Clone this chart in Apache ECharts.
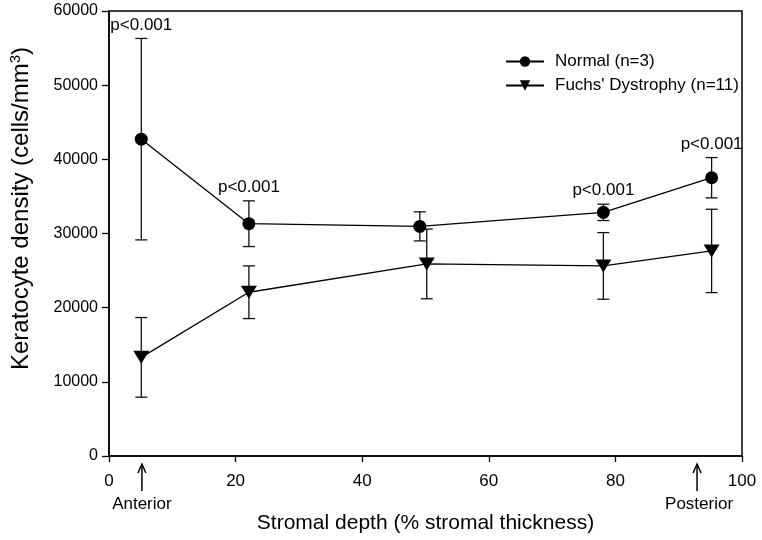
<!DOCTYPE html>
<html>
<head>
<meta charset="utf-8">
<script src="https://cdn.jsdelivr.net/npm/echarts@6/dist/echarts.min.js"></script>
<style>html,body{margin:0;padding:0;background:#fff}#c{width:762px;height:540px}</style>
</head>
<body>
<div id="c"></div>
<script>
// Data
const normalDepth = [5.1, 22.1, 49.1, 78.1, 95.2];
const normalMean  = [42720, 31320, 30960, 32850, 37520];
const normalSD    = [13580, 3080, 1960, 1100, 2720];

const fuchsDepth = [5.1, 22.1, 50.2, 78.1, 95.2];
const fuchsMean  = [13300, 22080, 25900, 25630, 27650];
const fuchsSD    = [5370, 3550, 4700, 4490, 5620];

const pIndex = [0, 1, 3, 4];           // normal points annotated with p value
const pText = 'p<0.001';

const annotDepth = [5.2, 92.9];
const annotText = ['Anterior', 'Posterior'];

const normalName = 'Normal (n=3)';
const fuchsName = "Fuchs' Dystrophy (n=11)";

const FONT = '"Liberation Sans", Arial, sans-serif';

const chart = echarts.init(document.getElementById('c'));

function pairs(xs, ys) { return xs.map((x, i) => [x, ys[i]]); }
function errData(xs, m, sd) { return xs.map((x, i) => [x, m[i] - sd[i], m[i] + sd[i]]); }

function errRender(params, api) {
  const x = api.value(0);
  const lo = api.coord([x, api.value(1)]);
  const hi = api.coord([x, api.value(2)]);
  const w = 6;
  const st = { stroke: '#111', lineWidth: 1.3 };
  return {
    type: 'group',
    children: [
      { type: 'line', shape: { x1: lo[0], y1: lo[1], x2: hi[0], y2: hi[1] }, style: st },
      { type: 'line', shape: { x1: lo[0] - w, y1: lo[1], x2: lo[0] + w, y2: lo[1] }, style: st },
      { type: 'line', shape: { x1: hi[0] - w, y1: hi[1], x2: hi[0] + w, y2: hi[1] }, style: st }
    ]
  };
}

const option = {
  animation: false,
  backgroundColor: '#fff',
  textStyle: { fontFamily: FONT, color: '#000' },
  grid: { left: 109, right: 20, top: 11, bottom: 84, show: true, borderColor: '#000', borderWidth: 1.5, backgroundColor: 'transparent', containLabel: false, outerBoundsMode: 'none' },
  legend: {
    orient: 'vertical',
    left: 505, top: 53, padding: 0,
    itemWidth: 38, itemHeight: 13, itemGap: 7,
    data: [normalName, fuchsName],
    textStyle: { fontFamily: FONT, fontSize: 17, color: '#000', padding: [0, 0, 0, 6] }
  },
  xAxis: {
    type: 'value', min: 0, max: 100, interval: 20,
    name: 'Stromal depth (% stromal thickness)',
    nameLocation: 'middle', nameGap: 57,
    nameTextStyle: { fontFamily: FONT, fontSize: 21, color: '#000' },
    axisLine: { show: true, onZero: false, lineStyle: { color: '#000', width: 1.5 } },
    axisTick: { show: true, length: 6, lineStyle: { color: '#000', width: 1.3 } },
    axisLabel: { fontFamily: FONT, fontSize: 17, color: '#000', margin: 17 },
    splitLine: { show: false }
  },
  yAxis: {
    type: 'value', min: 0, max: 60000, interval: 10000,
    name: '{a|Keratocyte density (cells/mm}{s|3}{a|)}',
    nameLocation: 'middle', nameGap: 74,
    nameTextStyle: {
      padding: [0, 0, 0, 50],
      rich: {
        a: { fontFamily: FONT, fontSize: 24, color: '#000' },
        s: { fontFamily: FONT, fontSize: 15, color: '#000', verticalAlign: 'top', padding: [0, 0, 12, 0] }
      }
    },
    axisLine: { show: true, lineStyle: { color: '#000', width: 1.5 } },
    axisTick: { show: true, length: 7, lineStyle: { color: '#000', width: 1.3 } },
    axisLabel: { fontFamily: FONT, fontSize: 16, color: '#000', margin: 11, formatter: v => String(v) },
    splitLine: { show: false }
  },
  series: [
    {
      type: 'custom', name: 'normalErr', renderItem: errRender, silent: true, z: 1,
      encode: { x: 0, y: [1, 2] },
      data: errData(normalDepth, normalMean, normalSD)
    },
    {
      type: 'custom', name: 'fuchsErr', renderItem: errRender, silent: true, z: 1,
      encode: { x: 0, y: [1, 2] },
      data: errData(fuchsDepth, fuchsMean, fuchsSD)
    },
    {
      type: 'line', name: normalName, z: 3,
      data: pairs(normalDepth, normalMean),
      symbol: 'circle', symbolSize: 13,
      lineStyle: { color: '#000', width: 1.3 },
      itemStyle: { color: '#000' }
    },
    {
      type: 'line', name: fuchsName, z: 3,
      data: pairs(fuchsDepth, fuchsMean),
      symbol: 'triangle', symbolRotate: 180, symbolSize: [16, 13],
      lineStyle: { color: '#000', width: 1.3 },
      itemStyle: { color: '#000' }
    },
    {
      type: 'scatter', name: 'pvals', silent: true, z: 4,
      symbolSize: 0,
      itemStyle: { color: '#000', opacity: 1 },
      data: pIndex.map(i => [normalDepth[i], normalMean[i] + normalSD[i]]),
      label: { show: true, position: 'top', distance: 5, formatter: pText, fontFamily: FONT, fontSize: 17, color: '#000', opacity: 1 }
    }
  ]
};
chart.setOption(option);

// Anterior / Posterior annotations below the x axis
const baseY = chart.convertToPixel({ yAxisIndex: 0 }, 0);
const gfx = [];
annotDepth.forEach((d, i) => {
  const px = chart.convertToPixel({ xAxisIndex: 0 }, d);
  const tipY = baseY + 8, botY = baseY + 35;
  gfx.push({ type: 'line', shape: { x1: px, y1: tipY, x2: px, y2: botY }, style: { stroke: '#000', lineWidth: 1.5 } });
  gfx.push({ type: 'polyline', shape: { points: [[px - 4, tipY + 9], [px, tipY], [px + 4, tipY + 9]] }, style: { stroke: '#000', lineWidth: 1.5, fill: null } });
  gfx.push({ type: 'text', x: px + (i === 0 ? 0 : 2), y: baseY + 48, style: { text: annotText[i], font: '17px ' + FONT, fill: '#000', textAlign: 'center', textVerticalAlign: 'middle' } });
});
chart.setOption({ graphic: gfx });
</script>
</body>
</html>
